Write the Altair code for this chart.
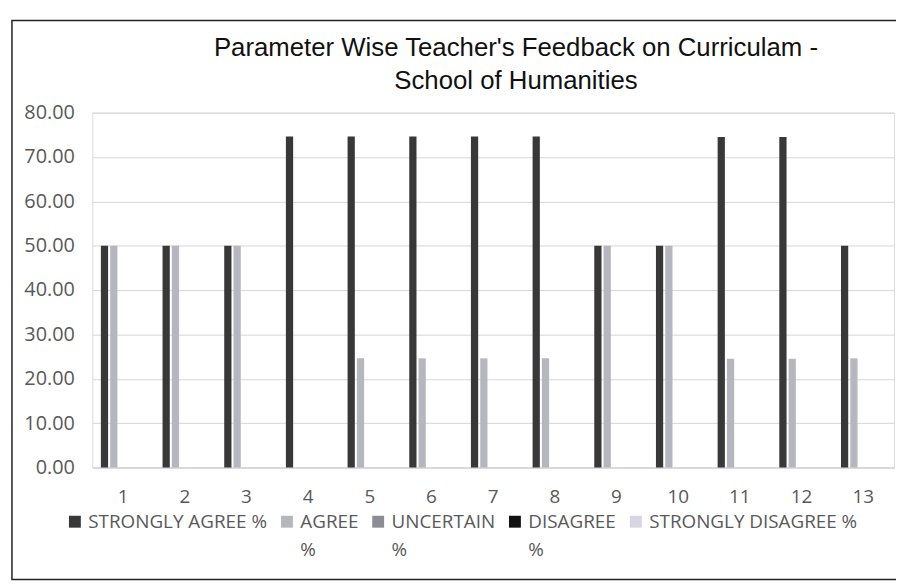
import altair as alt
import pandas as pd

params = [str(i) for i in range(1, 14)]
series = ["STRONGLY AGREE %", "AGREE %", "UNCERTAIN %", "DISAGREE %", "STRONGLY DISAGREE %"]
strongly_agree = [50, 50, 50, 74.6, 74.6, 74.6, 74.6, 74.6, 50, 50, 74.5, 74.5, 50]
agree = [50, 50, 50, 0, 24.6, 24.6, 24.6, 24.6, 50, 50, 24.5, 24.5, 24.6]
uncertain = [0] * 13
disagree = [0] * 13
strongly_disagree = [0] * 13
colors = ["#383838", "#b6b6be", "#8c8c94", "#111111", "#d6d6e2"]

values = [strongly_agree, agree, uncertain, disagree, strongly_disagree]
rows = []
for s, vals in zip(series, values):
    for p, v in zip(params, vals):
        rows.append({"param": p, "series": s, "value": v})
df = pd.DataFrame(rows)

W, H = 809, 358

label_expr = ("datum.label == 'AGREE %' ? ['AGREE', '%'] : "
              "datum.label == 'UNCERTAIN %' ? ['UNCERTAIN', '%'] : "
              "datum.label == 'DISAGREE %' ? ['DISAGREE', '%'] : "
              "[datum.label, '']")

bars = alt.Chart(df).mark_bar().encode(
    x=alt.X("param:N", sort=params, title=None,
            scale=alt.Scale(paddingInner=0.28, paddingOuter=0.14),
            axis=alt.Axis(labelAngle=0, ticks=False, domainColor="#d0d0d6",
                          labelPadding=20, labelFontSize=19, labelFont="Open Sans",
                          labelColor="#595959", grid=False)),
    xOffset=alt.XOffset("series:N", sort=series, scale=alt.Scale(paddingInner=0.22)),
    y=alt.Y("value:Q", title=None,
            scale=alt.Scale(domain=[0, 80], nice=False),
            axis=alt.Axis(values=[0, 10, 20, 30, 40, 50, 60, 70, 80], format=".2f",
                          ticks=False, domain=False, labelPadding=18, labelFontSize=20,
                          labelFont="Open Sans", labelColor="#595959",
                          gridColor="#d6d6dc", gridWidth=1)),
    color=alt.Color("series:N", sort=series,
                    scale=alt.Scale(domain=series, range=colors),
                    legend=alt.Legend(title=None, orient="none", direction="horizontal",
                                      legendX=-27, legendY=403, symbolType="square",
                                      symbolSize=144, symbolStrokeWidth=0,
                                      labelFont="Open Sans", labelFontSize=19,
                                      labelColor="#595959", labelLimit=400,
                                      labelOffset=4, columnPadding=10,
                                      labelBaseline="middle",
                                      labelExpr=label_expr)),
)

border = alt.Chart(alt.Data(values=[{}])).mark_rect(
    fill="transparent", stroke="#222222", strokeWidth=1.5
).encode(
    x=alt.value(-81), x2=alt.value(W + 30),
    y=alt.value(-93), y2=alt.value(H + 113),
)

chart = alt.layer(bars, border).properties(
    width=W, height=H,
    title=alt.TitleParams(
        text=["Parameter Wise Teacher's Feedback on Curriculam -", "School of Humanities"],
        font="Liberation Sans", fontSize=26, fontWeight="normal", color="#111111",
        lineHeight=33, anchor="middle", dx=23, offset=-75),
    autosize=alt.AutoSizeParams(type="none"),
    padding={"left": 85, "top": 103, "right": 2, "bottom": 115},
).configure_view(strokeWidth=0).configure(style={"guide-label": {"lineHeight": 29}})

chart.save("out.html", embed_options={"renderer": "svg", "actions": False})
